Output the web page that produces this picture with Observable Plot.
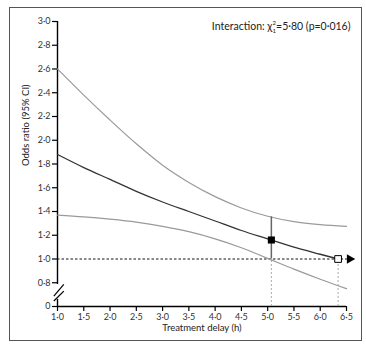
<!DOCTYPE html>
<html><head><meta charset="utf-8">
<script src="https://cdn.jsdelivr.net/npm/d3@7"></script>
<script src="https://cdn.jsdelivr.net/npm/@observablehq/plot@0.6"></script>
<style>body{margin:0;background:#fff}</style>
</head><body><div id="chart"></div>
<script>
// Data
const delay      = [1.0, 1.5, 2.0, 2.5, 3.0, 3.5, 4.0, 4.5, 5.0, 5.5, 6.0, 6.34];
const orCentral  = [1.88, 1.77, 1.67, 1.57, 1.48, 1.40, 1.32, 1.24, 1.17, 1.10, 1.04, 1.00];
const delayCI    = [1.0, 1.5, 2.0, 2.5, 3.0, 3.5, 4.0, 4.5, 5.0, 5.5, 6.0, 6.5];
const orUpper    = [2.60, 2.38, 2.17, 1.97, 1.79, 1.645, 1.525, 1.43, 1.36, 1.315, 1.29, 1.275];
const orLower    = [1.37, 1.355, 1.335, 1.31, 1.275, 1.23, 1.17, 1.095, 1.005, 0.915, 0.83, 0.75];

const highlightDelay = 5.07, highlightOR = 1.16, highlightLow = 1.0, highlightHigh = 1.355;
const nullDelay = 6.34, nullOR = 1.0;
const refLineEnd = 6.54;

const xTicks = [1.0, 1.5, 2.0, 2.5, 3.0, 3.5, 4.0, 4.5, 5.0, 5.5, 6.0, 6.5];
const yTicks = [0.6, 0.8, 1.0, 1.2, 1.4, 1.6, 1.8, 2.0, 2.2, 2.4, 2.6, 2.8, 3.0];
const yTickLabels = ["0", "0·8", "1·0", "1·2", "1·4", "1·6", "1·8", "2·0", "2·2", "2·4", "2·6", "2·8", "3·0"];
// axis break (slashes) in data units
const breakX1 = [0.93, 0.93], breakY1 = [0.688, 0.646];
const breakX2 = [1.12, 1.12], breakY2 = [0.786, 0.730];

const font = "Lato, 'Liberation Sans', sans-serif";
const dot = v => String(v.toFixed(1)).replace(".", "·");

const central = delay.map((d, i) => ({d, v: orCentral[i]}));
const upper = delayCI.map((d, i) => ({d, v: orUpper[i]}));
const lower = delayCI.map((d, i) => ({d, v: orLower[i]}));
const breaks = breakX1.map((x, i) => ({x1: x, y1: breakY1[i], x2: breakX2[i], y2: breakY2[i]}));

const plot = Plot.plot({
  width: 366, height: 345,
  marginLeft: 57, marginRight: 20, marginTop: 21, marginBottom: 39,
  style: {fontFamily: font, fontSize: "9px", color: "#222", background: "#fff"},
  x: {domain: [1, 6.5]},
  y: {domain: [0.6, 3.0]},
  marks: [
    // axis lines
    Plot.ruleY([0.6], {x1: 1, x2: 6.5, stroke: "#000", strokeWidth: 1.4}),
    Plot.ruleX([1], {y1: 0.785, y2: 3.0, stroke: "#000", strokeWidth: 1.4}),
    Plot.ruleX([1], {y1: 0.6, y2: 0.66, stroke: "#000", strokeWidth: 1.4}),
    Plot.link(breaks, {x1: "x1", y1: "y1", x2: "x2", y2: "y2", stroke: "#000", strokeWidth: 1.2}),
    Plot.axisX({ticks: xTicks, tickFormat: dot, tickSize: 5, tickPadding: 2, label: null, stroke: "#000", strokeWidth: 1.2, fill: "#333"}),
    Plot.axisY({ticks: yTicks, tickFormat: (d) => yTickLabels[yTicks.indexOf(d)], tickSize: 5, tickPadding: 2, label: null, stroke: "#000", strokeWidth: 1.2, fill: "#333"}),
    // reference lines
    Plot.ruleX([highlightDelay, nullDelay], {y1: 0.6, y2: nullOR, stroke: "#aaa", strokeDasharray: "2,2"}),
    Plot.ruleY([nullOR], {x1: 1, x2: refLineEnd, stroke: "#111", strokeDasharray: "2.5,2", strokeWidth: 1}),
    Plot.dot([{x: refLineEnd + 0.02, y: nullOR}], {x: "x", y: "y", symbol: "triangle", rotate: 90, r: 3.6, fill: "#000", stroke: null}),
    // curves
    Plot.line(upper, {x: "d", y: "v", curve: "monotone-x", stroke: "#9a9a9a", strokeWidth: 1.2}),
    Plot.line(lower, {x: "d", y: "v", curve: "monotone-x", stroke: "#9a9a9a", strokeWidth: 1.2}),
    Plot.ruleX([highlightDelay], {y1: highlightLow, y2: highlightHigh, stroke: "#666", strokeWidth: 1.5}),
    Plot.line(central, {x: "d", y: "v", curve: "monotone-x", stroke: "#333", strokeWidth: 1.3}),
    Plot.dot([{x: highlightDelay, y: highlightOR}], {x: "x", y: "y", symbol: "square", r: 4, fill: "#000", stroke: null}),
    Plot.dot([{x: nullDelay, y: nullOR}], {x: "x", y: "y", symbol: "square", r: 3.8, fill: "#fff", stroke: "#000", strokeWidth: 1}),
    // labels
    Plot.text(["Treatment delay (h)"], {frameAnchor: "bottom", dy: 24, fontSize: 9.5, fill: "#222"}),
    Plot.text(["Odds ratio (95% CI)"], {frameAnchor: "left", dx: -32, dy: 2, rotate: -90, fontSize: 9.5, fill: "#222"}),
    Plot.text(["Interaction: χ21=5·80 (p=0·016)"], {frameAnchor: "top-right", textAnchor: "end", dx: 4, dy: 1, fontSize: 10.5, fill: "#222", className: "interaction"})
  ]
});

const svg = d3.select(plot);
// frame around the figure
svg.insert("rect", ":first-child").attr("x", 9.5).attr("y", 7.5).attr("width", 352).attr("height", 333)
  .attr("fill", "none").attr("stroke", "#555").attr("stroke-width", 1);
// chi-square with stacked superscript/subscript
svg.selectAll("g.interaction text").each(function() {
  const t = d3.select(this);
  t.text(null);
  t.append("tspan").text("Interaction: χ");
  t.append("tspan").attr("dy", "-4.5px").attr("font-size", "6px").text("2");
  t.append("tspan").attr("dx", "-3.3px").attr("dy", "7.5px").attr("font-size", "6px").text("1");
  t.append("tspan").attr("dy", "-3px").text("=5·80 (p=0·016)");
});
document.getElementById("chart").append(plot);
</script>
</body></html>
